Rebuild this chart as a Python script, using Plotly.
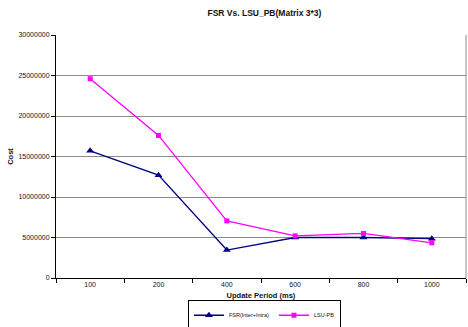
import plotly.graph_objects as go

# Update period (ms) categories and cost per routing scheme
periods = ["100", "200", "400", "600", "800", "1000"]
fsr_cost = [15700000, 12700000, 3450000, 5000000, 5000000, 4850000]
lsu_pb_cost = [24600000, 17600000, 7050000, 5200000, 5500000, 4350000]
y_ticks = [0, 5000000, 10000000, 15000000, 20000000, 25000000, 30000000]

fig = go.Figure()
fig.add_trace(go.Scatter(
    x=periods, y=fsr_cost, name="FSR(Inter+Intra)", mode="lines+markers",
    line=dict(color="#000080", width=1.3),
    marker=dict(symbol="triangle-up", size=7, color="#000080"),
))
fig.add_trace(go.Scatter(
    x=periods, y=lsu_pb_cost, name="LSU-PB", mode="lines+markers",
    line=dict(color="#FF00FF", width=1.3),
    marker=dict(symbol="square", size=5, color="#FF00FF"),
))

fig.update_layout(
    width=468, height=327,
    margin=dict(l=56, r=2, t=35, b=49, autoexpand=False),
    paper_bgcolor="white", plot_bgcolor="white",
    font=dict(family="Liberation Sans, Arial", size=7, color="#111111"),
    title=dict(text="<b>FSR Vs. LSU_PB(Matrix 3*3)</b>", x=0.565, xanchor="center",
               y=0.96, yanchor="middle", font=dict(size=8.5)),
    showlegend=True,
    legend=dict(orientation="h", x=0.565, xanchor="center", xref="container",
                y=0.036, yanchor="middle", yref="container",
                bordercolor="#000000", borderwidth=1, font=dict(size=5.5),
                itemwidth=30, tracegroupgap=0),
    xaxis=dict(
        type="category", range=[-0.5, 5.5], tickson="boundaries",
        ticks="outside", ticklen=4, tickcolor="#000000",
        showline=True, linecolor="#000000", linewidth=1, mirror=False,
        showgrid=False, tickfont=dict(size=7),
        title=dict(text="<b>Update Period (ms)</b>", font=dict(size=7.5), standoff=6),
    ),
    yaxis=dict(
        range=[0, 30000000], tickvals=y_ticks, tickformat="d",
        ticks="outside", ticklen=4, tickcolor="#000000",
        showline=True, linecolor="#000000", linewidth=1,
        showgrid=True, gridcolor="#8c8c8c", gridwidth=1,
        zeroline=False, tickfont=dict(size=7),
        title=dict(text="<b>Cost</b>", font=dict(size=7.5), standoff=3),
    ),
)
# right-hand border of the plot area
fig.add_shape(type="line", xref="paper", yref="paper", x0=1, x1=1, y0=0, y1=1,
              line=dict(color="#8c8c8c", width=1))

fig.write_html("out.html")
